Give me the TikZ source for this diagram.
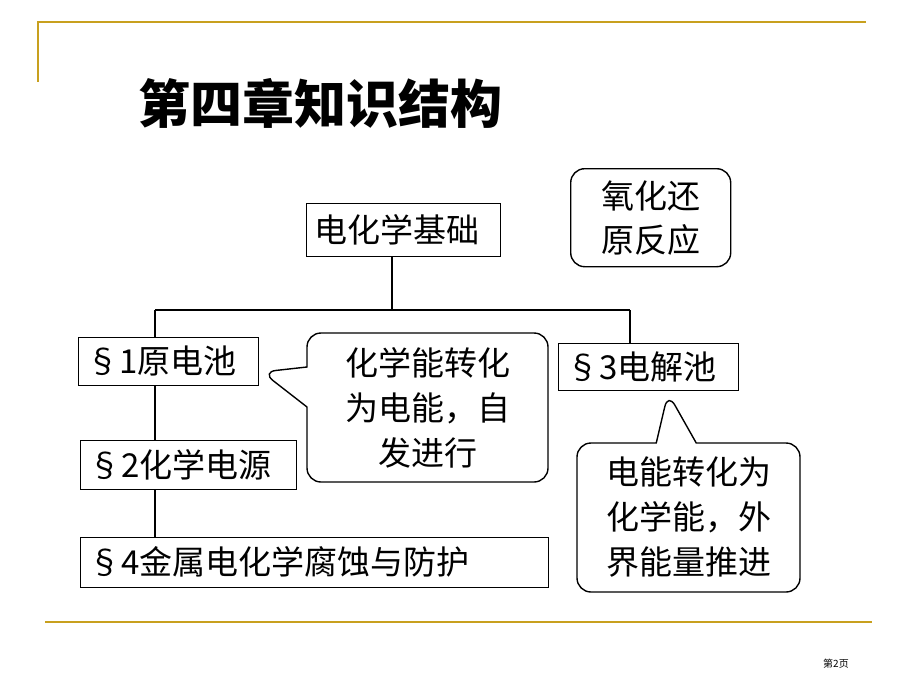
\documentclass[tikz,border=0pt]{standalone}
\usepackage{fontspec}
\setmainfont{Noto Sans CJK SC}
\usetikzlibrary{positioning, shapes.callouts}
\definecolor{gold}{RGB}{200,160,30}
\tikzset{
    x=1pt, y=-1pt, thick,
    box/.style = {draw, rectangle, font=\fontsize{33}{36}\selectfont, anchor=north west,
                  inner xsep=8pt, inner ysep=0pt, align=left},
    bubble/.style = {draw, line width=1.4pt, rectangle callout, rounded corners=14pt, align=center,
                     font=\fontsize{33}{45}\selectfont, inner sep=0pt, callout pointer width=40pt},
    tree/.style = {line width=2pt}
}
\begin{document}
\begin{tikzpicture}
  \useasboundingbox (0,0) rectangle (920,690);
  % frame
  \draw[gold, line width=1.5pt] (38,82) -- (38,22) -- (866,22);
  \draw[gold, line width=1.5pt] (45,622) -- (872,622);
  \node[font=\fontsize{10}{12}\selectfont] (page) at (836,664) {第2页};
  \node[font=\fontsize{52}{56}\selectfont\bfseries, anchor=west] (title) at (135,103) {第四章知识结构};
  % boxes
  \node[box, text width=178pt, minimum height=53pt] (base) at (306,203) {电化学基础};
  \node[draw, line width=1.4pt, rounded corners=14pt, minimum width=160pt, minimum height=98pt, align=center,
        font=\fontsize{33}{44}\selectfont, anchor=north west, inner sep=0pt] (redox) at (570,168) {氧化还\\原反应};
  \node[box, text width=164pt, minimum height=48pt] (s1) at (78,337) {§1原电池};
  \node[box, text width=164pt, minimum height=47pt] (s3) at (558,343) {§3电解池};
  \node[box, text width=200pt, minimum height=49pt] (s2) at (80,440) {§2化学电源};
  \node[box, text width=452pt, minimum height=50pt] (s4) at (80,537) {§4金属电化学腐蚀与防护};
  % tree
  \coordinate (hub) at (392,310);
  \draw[tree] (base.south -| hub) -- (hub);
  \draw[tree] (155,310) -- (630,310);
  \draw[tree] (155,310) -- (155,337);
  \draw[tree] (630,310) -- (s3.north -| 630,0);
  \draw[tree] (s1.south -| 155,0) -- (s2.north -| 155,0);
  \draw[tree] (s2.south -| 155,0) -- (s4.north -| 155,0);
  % callouts
  \node[bubble, minimum width=241pt, minimum height=149pt, callout absolute pointer={(262,372)}]
       (c1) at (427.5,407.5) {化学能转化\\为电能，自\\发进行};
  \node[bubble, minimum width=223pt, minimum height=149pt, callout absolute pointer={(668,393)}]
       (c3) at (688.5,517.5) {电能转化为\\化学能，外\\界能量推进};
\end{tikzpicture}
\end{document}
